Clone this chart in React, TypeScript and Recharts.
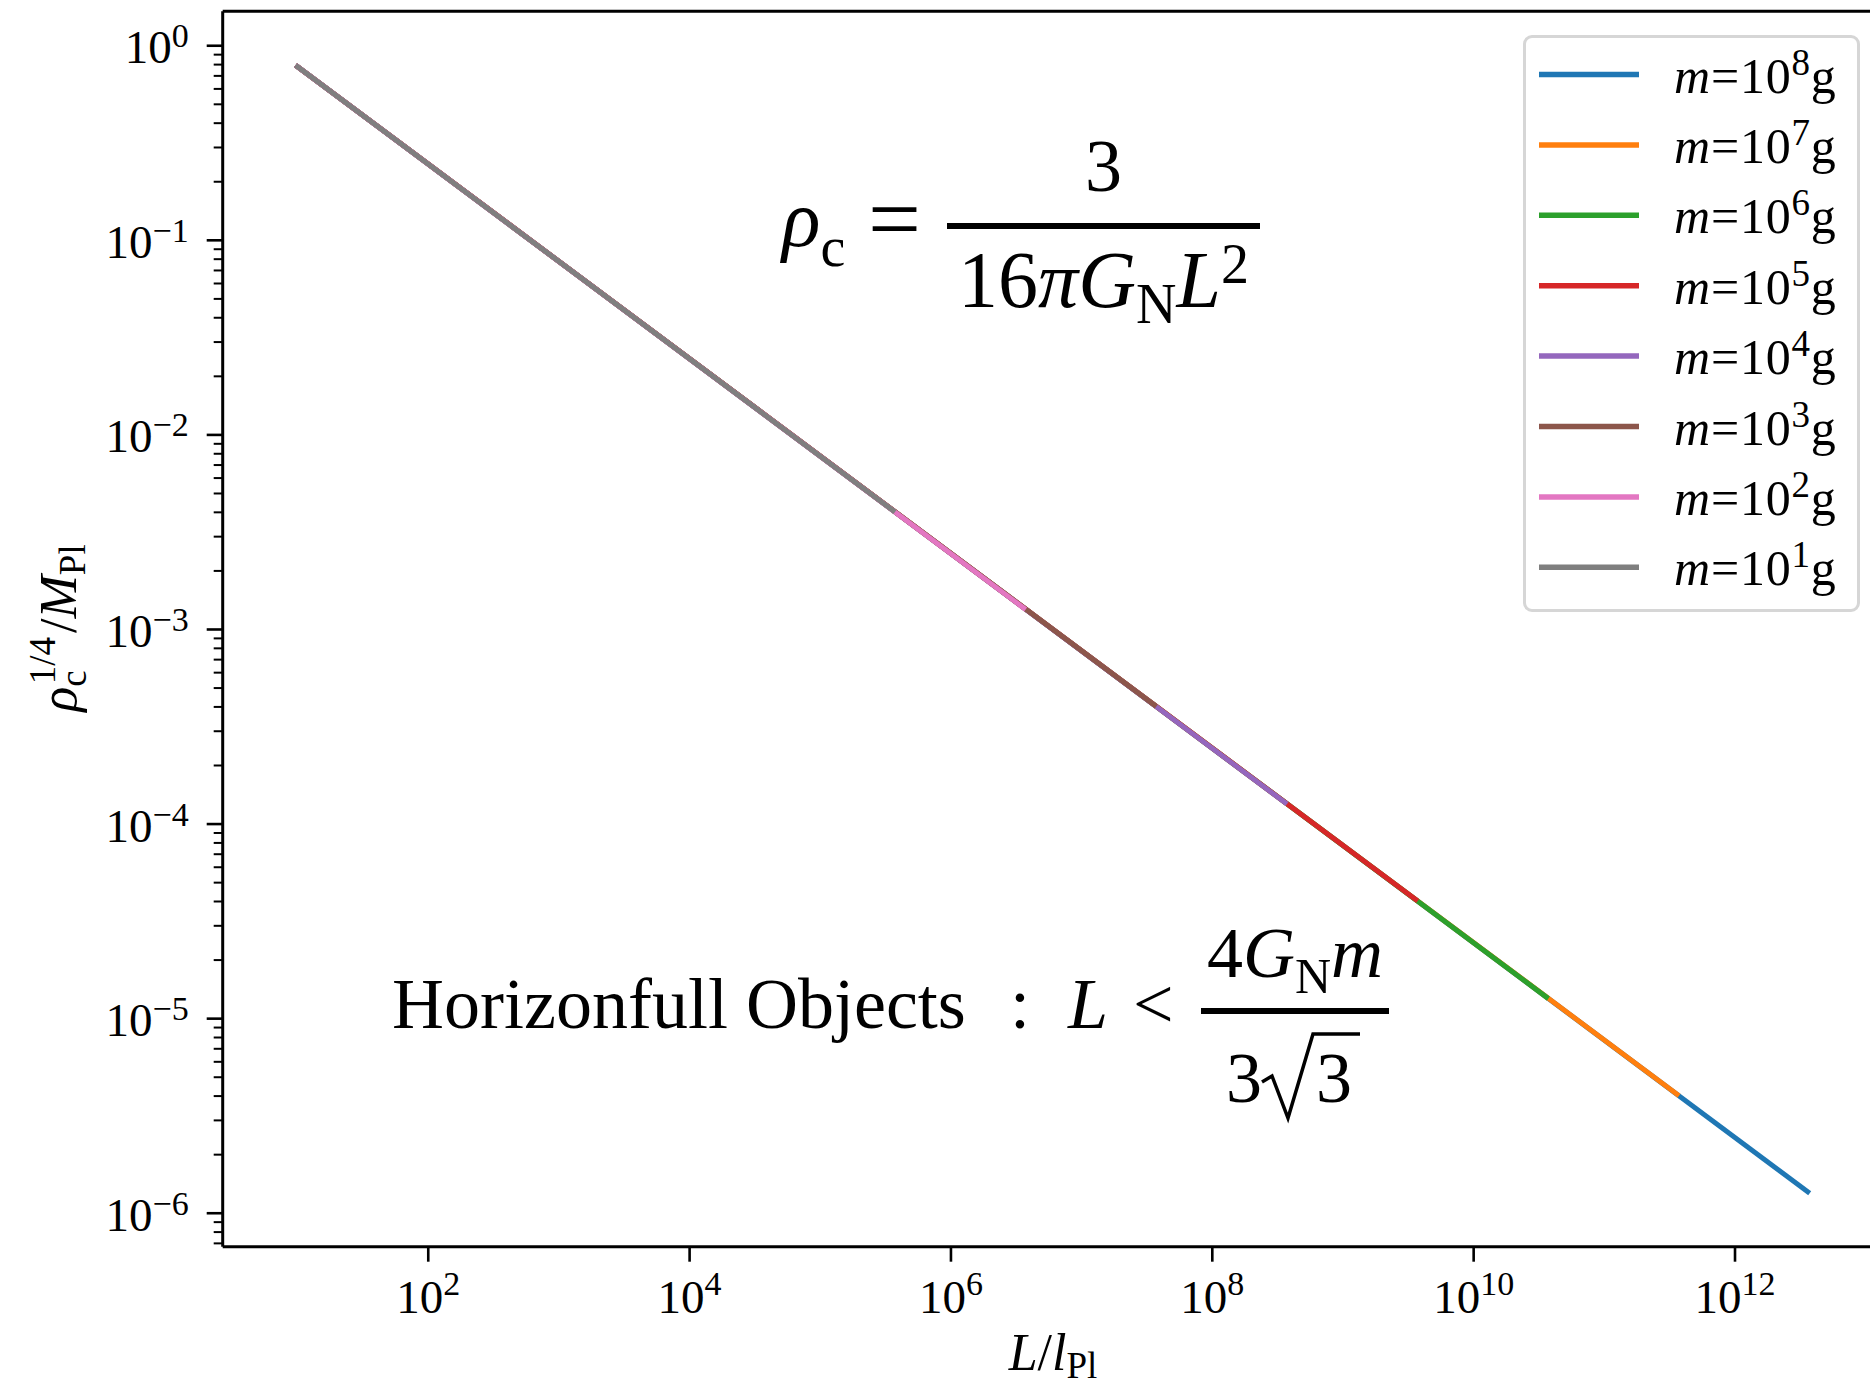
import { LineChart, Line, XAxis, YAxis, Legend, ReferenceLine, Customized } from "recharts";

const FONT = '"Liberation Serif", "Times New Roman", serif';

// masses (powers of ten, in grams), in the order they are drawn and listed
const MASS_EXP = [8, 7, 6, 5, 4, 3, 2, 1];
const SERIES_COLORS = ["#1f77b4", "#ff7f0e", "#2ca02c", "#d62728", "#9467bd", "#8c564b", "#e377c2", "#7f7f7f"];

// each curve runs from L = 10 up to its horizon bound
const L_START = [10, 10, 10, 10, 10, 10, 10, 10];
const RHO_START = [0.78, 0.78, 0.78, 0.78, 0.78, 0.78, 0.78, 0.78];
const L_END = [3.6e12, 3.6e11, 3.6e10, 3.6e9, 3.6e8, 3.6e7, 3.6e6, 3.6e5];
const RHO_END = [1.29e-6, 4.09e-6, 1.29e-5, 4.09e-5, 1.29e-4, 4.09e-4, 1.29e-3, 4.09e-3];

const X_TICK_EXP = [2, 4, 6, 8, 10, 12];
const Y_TICK_EXP = [0, -1, -2, -3, -4, -5, -6, -7];
const Y_MINOR_MANT = [2, 3, 4, 5, 6, 7, 8, 9];

const X_DOMAIN = [10 ** 0.427, 10 ** 13.033];
const Y_DOMAIN = [10 ** -6.172, 10 ** 0.177];

const series = MASS_EXP.map((e, i) => ({
  name: `m=10^${e}g`,
  color: SERIES_COLORS[i],
  data: [
    { L: L_START[i], rho: RHO_START[i] },
    { L: L_END[i], rho: RHO_END[i] },
  ],
}));
const seriesNames = series.map((s) => s.name);

const xTicks = X_TICK_EXP.map((e) => 10 ** e);
const yTicks = Y_TICK_EXP.flatMap((e) => [10 ** e, ...Y_MINOR_MANT.map((m) => m * 10 ** e)]).filter(
  (v) => v >= Y_DOMAIN[0] && v <= Y_DOMAIN[1]
);

const sup = (e: number) => (e < 0 ? `\u2212${-e}` : `${e}`);

function XTick({ x, y, payload }: any) {
  const e = Math.round(Math.log10(payload.value));
  return (
    <g>
      <line x1={x} x2={x} y1={y} y2={y + 15} stroke="#000" strokeWidth={2.6} />
      <text x={x} y={y + 66} textAnchor="middle" fontFamily={FONT} fontSize={47} fill="#000">
        10
        <tspan dy={-18} fontSize={34}>
          {sup(e)}
        </tspan>
      </text>
    </g>
  );
}

function YTick({ x, y, payload }: any) {
  const v = payload.value;
  const e = Math.round(Math.log10(v));
  const major = Math.abs(v - 10 ** e) / v < 1e-6;
  return (
    <g>
      <line x1={x - (major ? 16 : 9)} x2={x} y1={y} y2={y} stroke="#000" strokeWidth={major ? 2.6 : 2} />
      {major && (
        <text x={x - 34} y={y + 17.5} textAnchor="end" fontFamily={FONT} fontSize={47} fill="#000">
          10
          <tspan dy={-16} fontSize={34}>
            {sup(e)}
          </tspan>
        </text>
      )}
    </g>
  );
}

function LegendBox({ payload }: any) {
  const items = [...(payload || [])].sort(
    (a: any, b: any) => seriesNames.indexOf(a.value) - seriesNames.indexOf(b.value)
  );
  return (
    <div
      style={{
        width: 337,
        height: 577,
        boxSizing: "border-box",
        border: "3px solid #d6d6d6",
        borderRadius: 9,
        background: "#fff",
      }}
    >
      <svg width={331} height={571}>
        {items.map((p: any, i: number) => {
          const cy = 36.5 + i * 70.4;
          const e = String(p.value).match(/\^(\d+)/)?.[1] ?? "";
          return (
            <g key={p.value}>
              <line x1={13} x2={113} y1={cy} y2={cy} stroke={p.color} strokeWidth={5.5} />
              <text x={148} y={cy + 18} fontFamily={FONT} fontSize={50} fill="#000" letterSpacing={0.8}>
                <tspan fontStyle="italic">m</tspan>=10
                <tspan dy={-18} fontSize={37}>
                  {e}
                </tspan>
                <tspan dy={18}>g</tspan>
              </text>
            </g>
          );
        })}
      </svg>
    </div>
  );
}

function Annotations() {
  return (
    <g fontFamily={FONT} fill="#000">
      {/* rho_c = 3 / (16 pi G_N L^2) */}
      <text x={782} y={246} fontSize={80}>
        <tspan fontStyle="italic">ρ</tspan>
        <tspan fontSize={56} dy={20}>
          c
        </tspan>
      </text>
      <text x={868} y={250} fontSize={94}>
        =
      </text>
      <line x1={947} x2={1260} y1={226} y2={226} stroke="#000" strokeWidth={6} />
      <text x={1103.5} y={191} fontSize={74} textAnchor="middle">
        3
      </text>
      <text x={1103.5} y={307} fontSize={80} textAnchor="middle">
        16<tspan fontStyle="italic">πG</tspan>
        <tspan fontSize={56} dy={16}>
          N
        </tspan>
        <tspan fontStyle="italic" dy={-16}>
          L
        </tspan>
        <tspan fontSize={56} dy={-24}>
          2
        </tspan>
      </text>

      {/* Horizonfull Objects : L < 4 G_N m / 3 sqrt 3 */}
      <text x={392} y={1028} fontSize={72}>
        Horizonfull Objects
      </text>
      <text x={1010} y={1028} fontSize={72}>
        :
      </text>
      <text x={1068} y={1028} fontSize={72} fontStyle="italic">
        L
      </text>
      <text x={1133} y={1028} fontSize={72}>
        {"<"}
      </text>
      <line x1={1201} x2={1389} y1={1011} y2={1011} stroke="#000" strokeWidth={6} />
      <text x={1295} y={977} fontSize={72} textAnchor="middle">
        4<tspan fontStyle="italic">G</tspan>
        <tspan fontSize={50} dy={16}>
          N
        </tspan>
        <tspan fontStyle="italic" dy={-16}>
          m
        </tspan>
      </text>
      <text x={1226} y={1102} fontSize={72}>
        3
      </text>
      <path
        d="M1262,1082 L1272,1076 L1288,1118 L1313,1034 L1360,1034"
        fill="none"
        stroke="#000"
        strokeWidth={3.5}
        strokeLinejoin="miter"
      />
      <text x={1316} y={1102} fontSize={72}>
        3
      </text>

      {/* axis labels */}
      <text x={1053} y={1370} fontSize={52} textAnchor="middle">
        <tspan fontStyle="italic">L</tspan>/<tspan fontStyle="italic">l</tspan>
        <tspan fontSize={37} dy={8}>
          Pl
        </tspan>
      </text>
      <text transform="rotate(-90)" x={-628} y={76} fontSize={52} textAnchor="middle">
        <tspan fontStyle="italic">ρ</tspan>
        <tspan fontSize={37} dy={10}>
          c
        </tspan>
        <tspan fontSize={37} dx={-14} dy={-31}>
          1/4
        </tspan>
        <tspan dx={4} dy={21}>
          /
        </tspan>
        <tspan fontStyle="italic">M</tspan>
        <tspan fontSize={37} dy={9}>
          Pl
        </tspan>
      </text>
    </g>
  );
}

export default function App() {
  return (
    <div style={{ position: "absolute", left: 0, top: 0, width: 1870, height: 1386, background: "#fff" }}>
      <LineChart width={1870} height={1386} margin={{ top: 11.3, right: 0, bottom: 0, left: 0 }}>
        <XAxis
          dataKey="L"
          type="number"
          scale="log"
          domain={X_DOMAIN}
          allowDataOverflow
          ticks={xTicks}
          interval={0}
          height={139.3}
          tickSize={0}
          tickMargin={0}
          tickLine={false}
          axisLine={{ stroke: "#000", strokeWidth: 3 }}
          tick={<XTick />}
        />
        <YAxis
          type="number"
          scale="log"
          domain={Y_DOMAIN}
          allowDataOverflow
          ticks={yTicks}
          interval={0}
          width={222.7}
          tickSize={0}
          tickMargin={0}
          tickLine={false}
          axisLine={{ stroke: "#000", strokeWidth: 3 }}
          tick={<YTick />}
        />
        <ReferenceLine y={Y_DOMAIN[1]} stroke="#000" strokeWidth={3} ifOverflow="extendDomain" />
        {series.map((s) => (
          <Line
            key={s.name}
            data={s.data}
            dataKey="rho"
            name={s.name}
            type="linear"
            stroke={s.color}
            strokeWidth={5}
            strokeLinecap="square"
            dot={false}
            activeDot={false}
            isAnimationActive={false}
          />
        ))}
        <Legend
          layout="vertical"
          align="center"
          verticalAlign="middle"
          content={<LegendBox />}
          wrapperStyle={{ left: 1523, top: 35, width: 337, height: 577 }}
        />
        <Customized component={Annotations} />
      </LineChart>
    </div>
  );
}
